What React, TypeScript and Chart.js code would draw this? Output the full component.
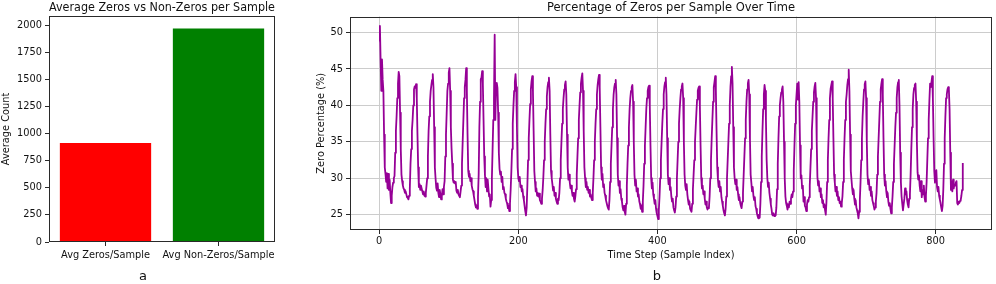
import React, { useEffect, useRef } from 'react';
import { Chart, registerables } from 'chart.js';

Chart.register(...registerables);

// ---------- Left panel data ----------
const barCategories = ['Avg Zeros/Sample', 'Avg Non-Zeros/Sample'];
const barValues = [912, 1968];
const barColors = ['#ff0000', '#008000'];
const barYTicks = [0, 250, 500, 750, 1000, 1250, 1500, 1750, 2000];

// ---------- Right panel data (zero percentage per sample, index 0..839) ----------
const zeroPct: number[] = [
  48.8, 50.9, 46.2, 42.0, 46.3, 43.5, 42.0, 36.0, 31.5, 30.6, 29.5, 30.7, 28.6, 30.6, 28.4, 29.8, 28.0, 26.6, 27.6, 28.8, 29.4, 30.0, 30.3, 33.5,
  36.5, 38.5, 41.0, 43.0, 44.6, 44.0, 39.0, 34.0, 30.5, 29.6, 29.0, 28.6, 28.4, 28.0, 28.2, 27.8, 27.4, 27.3, 27.1, 27.6, 28.6, 32.0, 34.0, 36.5,
  38.0, 40.0, 42.2, 42.6, 42.4, 42.9, 41.0, 36.0, 31.5, 28.8, 29.2, 28.4, 29.0, 28.6, 28.2, 27.8, 28.2, 27.6, 27.5, 28.0, 29.0, 30.0, 33.0, 36.5,
  38.5, 40.5, 42.0, 42.8, 43.5, 44.3, 42.5, 37.0, 31.5, 30.0, 28.7, 28.3, 29.3, 28.0, 27.4, 28.4, 27.8, 27.1, 27.5, 28.5, 27.8, 28.8, 29.6, 33.0,
  36.0, 39.0, 42.0, 43.0, 44.5, 45.1, 42.0, 37.0, 34.1, 32.0, 29.8, 29.4, 29.6, 29.3, 29.5, 28.3, 28.0, 28.4, 27.8, 27.6, 27.4, 28.2, 29.0, 32.0,
  35.0, 38.0, 41.0, 42.5, 43.5, 45.1, 42.0, 36.0, 31.0, 30.2, 30.6, 29.6, 30.0, 29.0, 28.5, 28.2, 27.6, 27.0, 26.4, 26.0, 26.2, 25.8, 27.5, 30.5,
  37.0, 40.5, 43.6, 43.8, 44.7, 43.0, 38.0, 33.0, 30.5, 28.8, 30.0, 28.2, 29.8, 28.6, 27.5, 27.8, 26.1, 27.0, 30.0, 34.0, 38.0, 41.0, 49.7, 38.0,
  42.9, 43.1, 42.4, 39.0, 33.5, 31.3, 30.5, 30.9, 29.5, 30.2, 28.5, 28.8, 28.0, 27.8, 27.2, 26.8, 26.5, 25.9, 26.2, 25.5, 26.5, 28.5, 31.0, 34.0,
  37.5, 40.0, 42.0, 43.2, 44.3, 42.5, 37.0, 31.5, 30.0, 29.6, 30.2, 28.8, 29.0, 28.2, 28.5, 27.5, 27.0, 26.2, 25.5, 24.9, 26.0, 29.0, 32.5, 35.5,
  38.0, 40.2, 42.2, 43.3, 44.0, 42.0, 36.5, 31.0, 29.5, 28.2, 28.6, 27.6, 28.0, 27.5, 27.9, 27.0, 26.8, 26.5, 27.2, 28.4, 30.2, 32.5, 35.0, 37.5,
  39.5, 41.2, 42.5, 43.2, 43.8, 42.0, 36.0, 31.0, 30.0, 29.2, 28.3, 28.8, 27.6, 28.0, 27.2, 26.8, 26.5, 27.2, 27.0, 28.0, 30.0, 32.5, 35.0, 37.5,
  39.5, 41.0, 42.2, 42.8, 43.3, 41.5, 36.0, 31.5, 29.8, 30.5, 29.4, 28.6, 29.0, 28.2, 27.6, 28.0, 27.2, 26.8, 27.5, 28.5, 30.5, 33.0, 35.5, 38.0,
  40.0, 41.8, 43.0, 43.8, 44.4, 42.0, 36.5, 31.5, 30.0, 28.8, 29.5, 28.4, 28.8, 28.0, 28.4, 27.5, 27.8, 27.3, 27.0, 28.0, 30.0, 32.5, 35.0, 37.5,
  39.5, 41.5, 42.8, 43.6, 44.2, 42.5, 37.0, 31.5, 29.8, 30.6, 28.8, 29.2, 28.0, 27.6, 27.0, 26.6, 26.2, 25.9, 25.7, 27.0, 29.5, 32.0, 34.5, 37.0,
  39.5, 41.5, 42.5, 43.0, 43.5, 41.5, 35.5, 30.5, 29.0, 29.6, 28.0, 28.5, 27.2, 26.8, 26.0, 25.6, 26.2, 25.4, 25.0, 26.5, 29.0, 32.0, 34.5, 37.0,
  39.5, 41.0, 42.0, 42.5, 42.8, 40.5, 35.0, 30.5, 29.0, 29.8, 28.2, 28.6, 27.5, 27.8, 26.8, 26.4, 25.8, 26.2, 25.4, 26.8, 29.0, 32.0, 34.5, 37.0,
  39.5, 41.0, 42.0, 42.5, 42.7, 40.0, 34.5, 30.0, 28.6, 29.4, 27.8, 27.2, 26.5, 27.0, 25.8, 25.2, 24.8, 24.4, 25.6, 27.5, 30.0, 32.5, 35.0, 37.5,
  39.5, 41.5, 42.6, 43.2, 43.8, 41.5, 35.5, 30.5, 29.2, 30.0, 28.4, 28.8, 27.5, 26.8, 27.2, 26.0, 25.6, 25.3, 26.0, 27.5, 30.0, 32.5, 35.0, 37.5,
  39.5, 41.0, 42.2, 42.6, 43.0, 41.0, 35.0, 30.5, 29.0, 28.4, 29.2, 27.8, 27.0, 26.4, 26.8, 25.8, 25.6, 25.4, 26.5, 28.5, 30.5, 32.5, 35.0, 37.0,
  39.0, 40.8, 42.0, 42.4, 42.6, 40.0, 34.5, 30.0, 28.6, 29.0, 27.8, 28.2, 27.2, 26.4, 26.8, 26.0, 25.7, 26.0, 25.9, 27.5, 30.0, 32.5, 35.5, 38.0,
  40.5, 42.5, 43.2, 44.0, 42.0, 36.5, 31.5, 29.8, 28.8, 29.6, 28.2, 28.8, 27.4, 26.8, 26.2, 25.6, 25.2, 24.9, 25.8, 27.5, 30.0, 32.5, 35.0, 37.5,
  40.0, 42.5, 44.0, 45.3, 43.0, 37.0, 31.5, 30.0, 29.2, 29.8, 28.4, 28.8, 27.8, 27.0, 27.4, 26.6, 26.2, 25.9, 26.8, 28.0, 30.5, 33.0, 35.5, 38.0,
  40.5, 42.2, 43.0, 43.5, 41.5, 35.5, 30.5, 29.4, 28.2, 28.8, 27.6, 27.0, 27.4, 26.2, 25.8, 25.2, 24.8, 24.5, 25.0, 24.6, 26.5, 29.5, 33.0, 36.5,
  39.5, 41.5, 42.8, 42.0, 38.0, 32.5, 30.0, 28.8, 29.4, 28.0, 27.2, 26.4, 25.8, 25.0, 24.9, 25.2, 24.8, 25.0, 24.9, 26.0, 28.5, 32.0, 35.5, 38.5,
  40.0, 41.0, 41.8, 42.2, 42.6, 40.5, 35.0, 30.0, 27.5, 26.6, 26.2, 25.7, 26.4, 26.0, 26.8, 26.5, 27.2, 27.8, 27.4, 28.2, 31.0, 34.5, 37.5, 40.0,
  41.5, 43.0, 40.8, 43.2, 40.5, 34.5, 30.0, 30.4, 28.6, 29.0, 26.8, 27.4, 26.2, 26.0, 25.5, 26.4, 27.0, 26.8, 27.4, 29.0, 31.5, 34.0, 36.5, 38.5,
  40.5, 41.8, 42.6, 43.1, 41.0, 35.0, 30.2, 29.0, 29.6, 28.2, 28.6, 27.4, 27.8, 26.6, 27.0, 26.0, 26.4, 25.6, 25.0, 26.8, 29.5, 32.5, 35.5, 38.0,
  41.0, 42.3, 42.8, 43.3, 41.0, 35.5, 30.5, 29.4, 28.2, 28.8, 27.6, 28.2, 27.0, 27.4, 26.6, 26.8, 26.1, 26.6, 27.5, 29.5, 32.5, 35.5, 38.0, 40.5,
  41.5, 42.8, 43.6, 44.9, 42.0, 36.0, 31.0, 29.8, 28.6, 27.8, 28.4, 27.2, 26.4, 27.0, 26.0, 25.6, 25.2, 24.5, 25.4, 27.0, 29.5, 32.5, 35.5, 38.5,
  40.5, 42.2, 42.9, 43.3, 41.0, 35.0, 30.5, 29.2, 29.8, 28.4, 28.8, 27.6, 28.2, 27.0, 26.6, 26.2, 25.7, 26.0, 26.8, 28.0, 30.5, 33.0, 35.5, 38.0,
  40.5, 42.2, 43.0, 43.6, 41.5, 35.5, 30.5, 29.0, 29.6, 28.2, 27.4, 28.0, 26.8, 26.2, 26.6, 25.8, 25.2, 26.0, 27.5, 29.5, 32.0, 34.5, 37.0, 39.0,
  41.0, 42.5, 43.2, 43.5, 40.0, 33.5, 29.5, 27.5, 26.5, 25.6, 26.4, 27.2, 28.6, 27.8, 28.2, 27.0, 26.4, 26.0, 27.2, 27.8, 30.5, 34.0, 37.0, 39.5,
  41.5, 42.4, 42.8, 43.0, 40.5, 35.0, 30.8, 29.8, 30.4, 29.0, 28.2, 29.6, 27.4, 28.4, 27.8, 29.0, 27.4, 26.8, 27.6, 29.5, 32.5, 35.5, 38.0, 40.7,
  43.0, 42.5, 43.2, 44.0, 41.0, 35.6, 31.0, 29.4, 30.5, 31.1, 28.8, 28.2, 28.8, 27.6, 27.1, 26.6, 26.0, 25.5, 26.2, 28.5, 32.0, 35.5, 38.5, 41.0,
  41.5, 42.2, 42.5, 42.2, 39.5, 33.5, 28.4, 29.6, 28.2, 29.8, 28.6, 29.2, 29.0, 29.4, 29.6, 26.6, 26.4, 26.8, 26.6, 26.9, 27.0, 27.6, 28.4, 32.1,
];
const lineXTicks = [0, 200, 400, 600, 800];
const lineYTicks = [25, 30, 35, 40, 45, 50];

const FONT = "'DejaVu Sans', sans-serif";
const TEXT = '#111111';
const SPINE = '#2a2a2a';

const framePlugin = {
  id: 'frame',
  afterDraw(chart: any) {
    const { ctx, chartArea } = chart;
    const l = Math.round(chartArea.left) + 0.5;
    const t = Math.round(chartArea.top) + 0.5;
    const r = Math.round(chartArea.right) - 0.5;
    const b = Math.round(chartArea.bottom) - 0.5;
    ctx.save();
    ctx.strokeStyle = SPINE;
    ctx.lineWidth = 1;
    ctx.strokeRect(l, t, r - l, b - t);
    ctx.restore();
  },
};

const plainTick = (v: any) => String(v);

function BarPanel() {
  const ref = useRef<HTMLCanvasElement>(null);
  useEffect(() => {
    const chart = new Chart(ref.current as HTMLCanvasElement, {
      type: 'bar',
      data: {
        labels: barCategories,
        datasets: [
          {
            data: barValues,
            backgroundColor: barColors,
            borderWidth: 0,
            barPercentage: 0.808,
            categoryPercentage: 1.0,
          },
        ],
      },
      options: {
        responsive: false,
        maintainAspectRatio: false,
        animation: false,
        layout: { padding: { left: 0, right: 15, top: 0, bottom: 15.6 } },
        plugins: {
          legend: { display: false },
          tooltip: { enabled: false },
          title: {
            display: true,
            fullSize: false,
            text: 'Average Zeros vs Non-Zeros per Sample',
            color: TEXT,
            font: { family: FONT, size: 11.5, weight: 'normal' },
            padding: { top: 1.5, bottom: 0.7 },
          },
        },
        scales: {
          x: {
            type: 'category',
            border: { display: false },
            grid: { display: true, drawOnChartArea: false, drawTicks: true, tickLength: 4, tickColor: SPINE, offset: false },
            ticks: { color: TEXT, font: { family: FONT, size: 9.8 }, padding: 4, maxRotation: 0, autoSkip: false },
            afterFit: (s: any) => { s.height = 26.4; },
          },
          y: {
            min: 0,
            max: 2084,
            border: { display: false },
            grid: { display: true, drawOnChartArea: false, drawTicks: true, tickLength: 4, tickColor: SPINE },
            ticks: { color: TEXT, font: { family: FONT, size: 9.8 }, padding: 3, callback: plainTick },
            afterBuildTicks: (axis: any) => { axis.ticks = barYTicks.map((v) => ({ value: v })); },
            title: {
              display: true,
              text: 'Average Count',
              color: TEXT,
              font: { family: FONT, size: 9.8 },
              padding: { top: 1, bottom: 0 },
            },
            afterFit: (s: any) => { s.width = 49; },
          },
        },
      },
      plugins: [framePlugin],
    } as any);
    return () => chart.destroy();
  }, []);
  return (
    <canvas
      ref={ref}
      width={290}
      height={284}
      style={{ position: 'absolute', left: 0, top: 0, width: 290, height: 284 }}
    />
  );
}

function LinePanel() {
  const ref = useRef<HTMLCanvasElement>(null);
  useEffect(() => {
    const points = zeroPct.map((v, i) => ({ x: i, y: v }));
    const chart = new Chart(ref.current as HTMLCanvasElement, {
      type: 'line',
      data: {
        datasets: [
          {
            data: points,
            borderColor: '#960096',
            borderWidth: 1.8,
            pointRadius: 0,
            tension: 0,
            fill: false,
            borderJoinStyle: 'round',
          },
        ],
      },
      options: {
        responsive: false,
        maintainAspectRatio: false,
        animation: false,
        layout: { padding: { left: 0, right: 4, top: 0, bottom: 15.6 } },
        plugins: {
          legend: { display: false },
          tooltip: { enabled: false },
          title: {
            display: true,
            fullSize: false,
            text: 'Percentage of Zeros per Sample Over Time',
            color: TEXT,
            font: { family: FONT, size: 11.5, weight: 'normal' },
            padding: { top: 1.5, bottom: 1.2 },
          },
        },
        scales: {
          x: {
            type: 'linear',
            min: -42,
            max: 881,
            border: { display: false },
            grid: { display: true, color: '#cccccc', lineWidth: 1, drawTicks: true, tickLength: 4, tickColor: SPINE },
            ticks: { color: TEXT, font: { family: FONT, size: 9.8 }, padding: 2, maxRotation: 0, callback: plainTick },
            afterBuildTicks: (axis: any) => { axis.ticks = lineXTicks.map((v) => ({ value: v })); },
            title: {
              display: true,
              text: 'Time Step (Sample Index)',
              color: TEXT,
              font: { family: FONT, size: 9.8 },
              padding: { top: 0, bottom: 7 },
            },
            afterFit: (s: any) => { s.height = 38.4; },
          },
          y: {
            min: 22.9,
            max: 52.2,
            border: { display: false },
            grid: { display: true, color: '#cccccc', lineWidth: 1, drawTicks: true, tickLength: 4, tickColor: SPINE },
            ticks: { color: TEXT, font: { family: FONT, size: 9.8 }, padding: 3, callback: plainTick },
            afterBuildTicks: (axis: any) => { axis.ticks = lineYTicks.map((v) => ({ value: v })); },
            title: {
              display: true,
              text: 'Zero Percentage (%)',
              color: TEXT,
              font: { family: FONT, size: 9.8 },
              padding: { top: 26, bottom: 0 },
            },
            afterFit: (s: any) => { s.width = 60; },
          },
        },
      },
      plugins: [framePlugin],
    } as any);
    return () => chart.destroy();
  }, []);
  return (
    <canvas
      ref={ref}
      width={706}
      height={284}
      style={{ position: 'absolute', left: 290, top: 0, width: 706, height: 284 }}
    />
  );
}

const panelLetterStyle: React.CSSProperties = {
  position: 'absolute',
  top: 268,
  width: 40,
  marginLeft: -20,
  textAlign: 'center',
  fontFamily: FONT,
  fontSize: 13,
  lineHeight: '16px',
  color: TEXT,
};

export default function App() {
  return (
    <div style={{ position: 'fixed', left: 0, top: 0, width: 996, height: 284, background: '#ffffff', overflow: 'hidden' }}>
      <BarPanel />
      <LinePanel />
      <div style={{ ...panelLetterStyle, left: 143 }}>a</div>
      <div style={{ ...panelLetterStyle, left: 657 }}>b</div>
    </div>
  );
}
